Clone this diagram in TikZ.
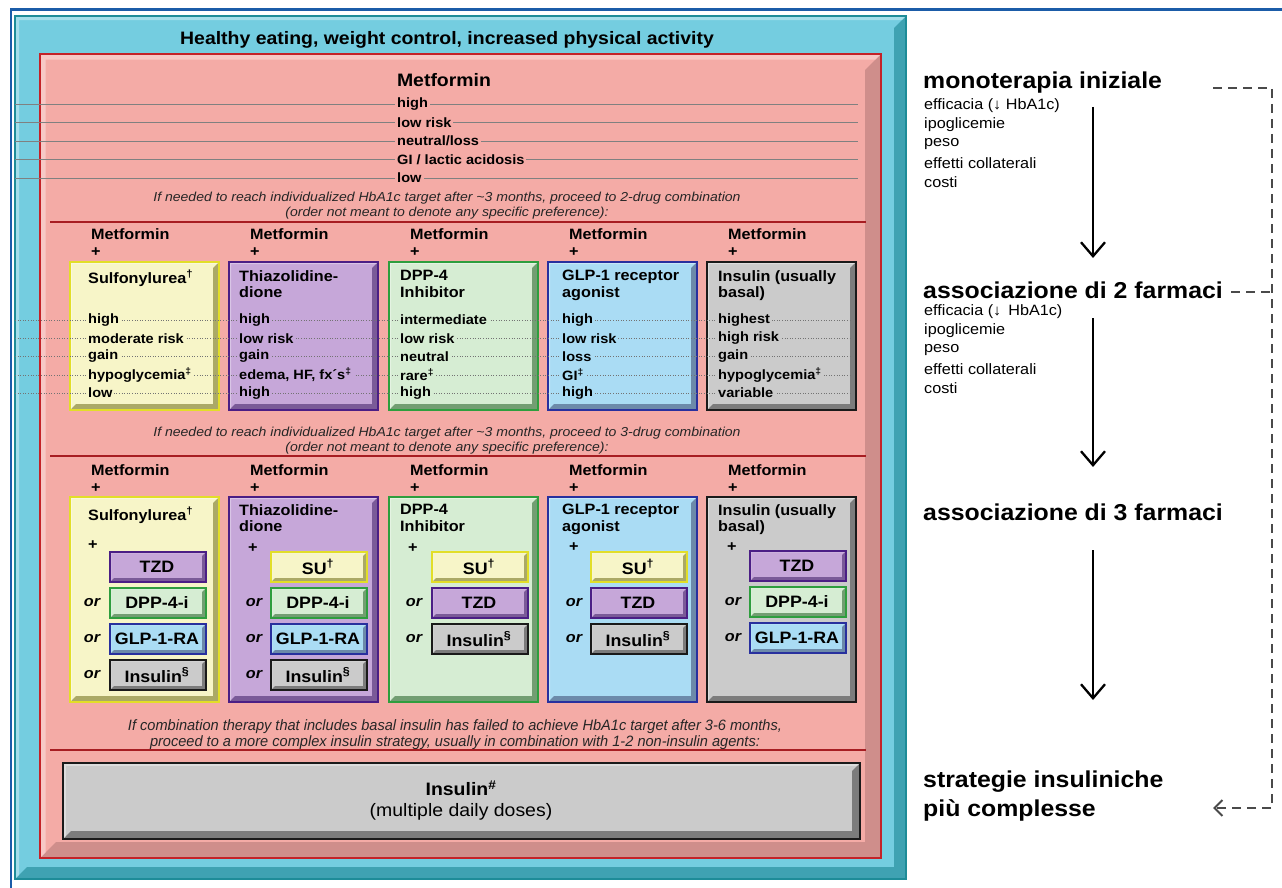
\documentclass[tikz,border=0pt]{standalone}
\usepackage{fontspec}
\setmainfont{Liberation Sans}[FakeStretch=1.08]
\usetikzlibrary{arrows.meta}

\definecolor{frameblue}{HTML}{1B5CA8}
\definecolor{cyanfill}{HTML}{74CDE0}
\definecolor{cyanshade}{HTML}{3FA2B2}
\definecolor{cyanedge}{HTML}{1E8C98}
\definecolor{redfill}{HTML}{F4ABA6}
\definecolor{redshade}{HTML}{CF8E8B}
\definecolor{rededge}{HTML}{C42228}
\definecolor{yelfill}{HTML}{F7F5C8}
\definecolor{yelshade}{HTML}{ABA966}
\definecolor{yeledge}{HTML}{E2DE28}
\definecolor{purfill}{HTML}{C6A7D9}
\definecolor{purshade}{HTML}{7A5A98}
\definecolor{puredge}{HTML}{4B1E85}
\definecolor{grnfill}{HTML}{D6EDD3}
\definecolor{grnshade}{HTML}{729E72}
\definecolor{grnedge}{HTML}{2E9E3E}
\definecolor{blufill}{HTML}{AADCF4}
\definecolor{blushade}{HTML}{6C8AAA}
\definecolor{bluedge}{HTML}{28309E}
\definecolor{gryfill}{HTML}{CBCBCB}
\definecolor{gryshade}{HTML}{7C7C7C}
\definecolor{gryedge}{HTML}{1A1A1A}
\definecolor{dashgray}{HTML}{4A4A4A}

% bevelled box: x1, y1, x2, y2, fill, shade, edge, depth
\newcommand\bevbox[8]{%
  \fill[#5] (#1,#2) rectangle (#3,#4);
  \fill[#6] (#3,#2) -- (#3,#4) -- (#1,#4) -- ({#1+#8},{#4-#8}) -- ({#3-#8},{#4-#8}) -- ({#3-#8},{#2+#8}) -- cycle;
  \fill[white,opacity=.35] (#1,#2) -- (#3,#2) -- ({#3-0.35*#8},{#2+0.35*#8}) -- ({#1+0.35*#8},{#2+0.35*#8}) -- ({#1+0.35*#8},{#4-0.35*#8}) -- (#1,#4) -- cycle;
  \draw[#7,line width=2.2] (#1,#2) rectangle (#3,#4);
}
% small labelled choice box: name, x-left, y-top, colour prefix, text
\newcommand\choice[5]{%
  \bevbox{#2}{#3}{#2+96}{#3+30}{#4fill}{#4shade}{#4edge}{4}
  \node[choicetxt] (#1) at ({#2+47},{#3+15}) {#5};
}
% five comparison values below a drug heading: x, fill colour, five texts
\newcommand\valcol[7]{%
  \node[val=#2] at (#1,320) {#3};
  \node[val=#2] at (#1,338.3) {#4};
  \node[val=#2] at (#1,356.5) {#5};
  \node[val=#2] at (#1,374.8) {#6};
  \node[val=#2] at (#1,393) {#7};
}

\begin{document}
\begin{tikzpicture}[x=1pt,y=-1pt,
  lifestyle/.style={font=\bfseries\fontsize{18}{20}\selectfont},
  mainhead/.style={font=\bfseries\fontsize{18}{20}\selectfont},
  rowlab/.style={font=\bfseries\fontsize{15}{17}\selectfont, anchor=west, inner sep=0pt},
  ttl/.style={font=\bfseries\fontsize{15}{16.5}\selectfont, anchor=north west, align=left, inner sep=0pt},
  val/.style={font=\bfseries\fontsize{13.5}{15}\selectfont, anchor=west, inner xsep=2pt, inner ysep=1pt, fill=#1},
  note/.style={font=\itshape\fontsize{13}{15}\selectfont, align=center, text=black!85},
  ortxt/.style={font=\bfseries\itshape\fontsize{15}{17}\selectfont},
  choicetxt/.style={font=\bfseries\fontsize{16.5}{18}\selectfont},
  guide/.style={draw=black!50, line width=0.5pt},
  dotguide/.style={draw=black!55, line width=0.6pt, dotted},
  sepline/.style={draw=rededge!85!black, line width=1.6pt},
  rhead/.style={font=\bfseries\fontsize{23}{28}\selectfont, anchor=west, inner sep=0pt},
  ritem/.style={font=\fontsize{15}{19}\selectfont, anchor=west, inner sep=0pt},
  flow/.style={line width=2.3pt, -{Straight Barb[length=14pt,width=24pt,line width=2.3pt]}},
  fbdash/.style={draw=dashgray, line width=2.2pt, dash pattern=on 9pt off 6pt},
]
\useasboundingbox (0,0) rectangle (1282,888);
\fill[white] (0,0) rectangle (1282,888);

% slide frame
\draw[frameblue, line width=2.6pt] (11,888) -- (11,9.5) -- (1282,9.5);

% lifestyle background and metformin panel
\bevbox{15}{16}{906}{879}{cyanfill}{cyanshade}{cyanedge}{12}
\node[lifestyle] (life) at (447,40) {Healthy eating, weight control, increased physical activity};
\bevbox{40}{54}{881}{858}{redfill}{redshade}{rededge}{16}

% ---- monotherapy ----
\node[mainhead] (met) at (444,80) {Metformin};
\foreach \y in {104,122.5,141,159.5,178} \draw[guide] (15,\y) -- (858,\y);
\node[val=redfill] (m1) at (395,104) {high};
\node[val=redfill] (m2) at (395,122.5) {low risk};
\node[val=redfill] (m3) at (395,141) {neutral/loss};
\node[val=redfill] (m4) at (395,159.5) {GI / lactic acidosis};
\node[val=redfill] (m5) at (395,178) {low};
\node[note] (n1) at (447,205.5) {If needed to reach individualized HbA1c target after \textasciitilde3 months, proceed to 2-drug combination\\(order not meant to denote any specific preference):};
\draw[sepline] (50,222) -- (866,222);

% ---- two-drug combinations ----
\foreach \L/\k in {70/a,229/b,389/c,548/d,707/e} {
  \node[rowlab] (r1met\k) at (\L+21,234) {Metformin};
  \node[rowlab] (r1plus\k) at (\L+21,252) {+};
}
\bevbox{70}{262}{219}{410}{yelfill}{yelshade}{yeledge}{6}
\bevbox{229}{262}{378}{410}{purfill}{purshade}{puredge}{6}
\bevbox{389}{262}{538}{410}{grnfill}{grnshade}{grnedge}{6}
\bevbox{548}{262}{697}{410}{blufill}{blushade}{bluedge}{6}
\bevbox{707}{262}{856}{410}{gryfill}{gryshade}{gryedge}{6}
\foreach \y in {320,338.3,356.5,374.8,393} \draw[dotguide] (15,\y) -- (852,\y);

\node[ttl] (t1a) at (88,270) {Sulfonylurea\textsuperscript{†}};
\node[ttl] (t1b) at (239,270) {Thiazolidine-\\dione};
\node[ttl] (t1c) at (400,270) {DPP-4\\Inhibitor};
\node[ttl] (t1d) at (562,270) {GLP-1 receptor\\agonist};
\node[ttl] (t1e) at (718,270) {Insulin (usually\\basal)};

\valcol{86}{yelfill}{high}{moderate risk}{gain}{hypoglycemia\textsuperscript{‡}}{low}
\valcol{237}{purfill}{high}{low risk}{gain}{edema, HF, fx´s\textsuperscript{‡}}{high}
\valcol{398}{grnfill}{intermediate}{low risk}{neutral}{rare\textsuperscript{‡}}{high}
\valcol{560}{blufill}{high}{low risk}{loss}{GI\textsuperscript{‡}}{high}
\valcol{716}{gryfill}{highest}{high risk}{gain}{hypoglycemia\textsuperscript{‡}}{variable}

\node[note] (n2) at (447,440.5) {If needed to reach individualized HbA1c target after \textasciitilde3 months, proceed to 3-drug combination\\(order not meant to denote any specific preference):};
\draw[sepline] (50,456) -- (866,456);

% ---- three-drug combinations ----
\foreach \L/\k in {70/a,229/b,389/c,548/d,707/e} {
  \node[rowlab] (r2met\k) at (\L+21,470) {Metformin};
  \node[rowlab] (r2plus\k) at (\L+21,488) {+};
}
\bevbox{70}{497}{219}{702}{yelfill}{yelshade}{yeledge}{6}
\bevbox{229}{497}{378}{702}{purfill}{purshade}{puredge}{6}
\bevbox{389}{497}{538}{702}{grnfill}{grnshade}{grnedge}{6}
\bevbox{548}{497}{697}{702}{blufill}{blushade}{bluedge}{6}
\bevbox{707}{497}{856}{702}{gryfill}{gryshade}{gryedge}{6}

\node[ttl] (t2a) at (88,507) {Sulfonylurea\textsuperscript{†}};
\node[ttl] (t2b) at (239,504) {Thiazolidine-\\dione};
\node[ttl] (t2c) at (400,504) {DPP-4\\Inhibitor};
\node[ttl] (t2d) at (562,504) {GLP-1 receptor\\agonist};
\node[ttl] (t2e) at (718,504) {Insulin (usually\\basal)};

\node[rowlab] (pa) at (88,545) {+};
\node[rowlab] (pb) at (248,548) {+};
\node[rowlab] (pc) at (408,548) {+};
\node[rowlab] (pd) at (569,547) {+};
\node[rowlab] (pe) at (727,547) {+};

\choice{ca1}{110}{552}{pur}{TZD}
\choice{ca2}{110}{588}{grn}{DPP-4-i}
\choice{ca3}{110}{624}{blu}{GLP-1-RA}
\choice{ca4}{110}{660}{gry}{Insulin\textsuperscript{§}}
\node[ortxt] at (92,603) {or};
\node[ortxt] at (92,639) {or};
\node[ortxt] at (92,675) {or};

\choice{cb1}{271}{552}{yel}{SU\textsuperscript{†}}
\choice{cb2}{271}{588}{grn}{DPP-4-i}
\choice{cb3}{271}{624}{blu}{GLP-1-RA}
\choice{cb4}{271}{660}{gry}{Insulin\textsuperscript{§}}
\node[ortxt] at (254,603) {or};
\node[ortxt] at (254,639) {or};
\node[ortxt] at (254,675) {or};

\choice{cc1}{432}{552}{yel}{SU\textsuperscript{†}}
\choice{cc2}{432}{588}{pur}{TZD}
\choice{cc3}{432}{624}{gry}{Insulin\textsuperscript{§}}
\node[ortxt] at (414,603) {or};
\node[ortxt] at (414,639) {or};

\choice{cd1}{591}{552}{yel}{SU\textsuperscript{†}}
\choice{cd2}{591}{588}{pur}{TZD}
\choice{cd3}{591}{624}{gry}{Insulin\textsuperscript{§}}
\node[ortxt] at (574,603) {or};
\node[ortxt] at (574,639) {or};

\choice{ce1}{750}{551}{pur}{TZD}
\choice{ce2}{750}{587}{grn}{DPP-4-i}
\choice{ce3}{750}{623}{blu}{GLP-1-RA}
\node[ortxt] at (733,602) {or};
\node[ortxt] at (733,638) {or};

\node[note, font=\itshape\fontsize{15}{16}\selectfont] (n3) at (455,734.5) {\scalebox{0.9}[1]{If combination therapy that includes basal insulin has failed to achieve HbA1c target after 3-6 months,}\\\scalebox{0.9}[1]{proceed to a more complex insulin strategy, usually in combination with 1-2 non-insulin agents:}};
\draw[sepline] (50,750) -- (866,750);

% ---- multiple daily insulin ----
\bevbox{63}{763}{860}{839}{gryfill}{gryshade}{gryedge}{8}
\node[font=\bfseries\fontsize{18}{20}\selectfont] (mdi) at (461,788) {Insulin\textsuperscript{\#}};
\node[font=\fontsize{18}{20}\selectfont] (mdd) at (461,812) {(multiple daily doses)};

% ---- Italian step sequence ----
\node[rhead] (mono) at (923,83) {monoterapia iniziale};
\node[ritem] (mo1) at (924,106) {efficacia (↓ HbA1c)};
\node[ritem] (mo2) at (924,125) {ipoglicemie};
\node[ritem] (mo3) at (924,144) {peso};
\node[ritem] (mo4) at (924,163) {effetti collaterali};
\node[ritem] (mo5) at (924,182) {costi};

\node[rhead] (ass2) at (923,290) {associazione di 2 farmaci};
\node[ritem] (as1) at (924,312) {efficacia (↓ \,HbA1c)};
\node[ritem] (as2) at (924,331) {ipoglicemie};
\node[ritem] (as3) at (924,350) {peso};
\node[ritem] (as4) at (924,369) {effetti collaterali};
\node[ritem] (as5) at (924,388) {costi};

\node[rhead] (ass3) at (923,512) {associazione di 3 farmaci};
\node[rhead] (strat1) at (923,782) {strategie insuliniche};
\node[rhead] (strat2) at (923,810) {più complesse};

\coordinate (f1s) at (1093,107);
\coordinate (f1e) at (1093,258);
\coordinate (f2s) at (1093,318);
\coordinate (f2e) at (1093,467);
\coordinate (f3s) at (1093,550);
\coordinate (f3e) at (1093,700);
\draw[flow] (f1s) -- (f1e);
\draw[flow] (f2s) -- (f2e);
\draw[flow] (f3s) -- (f3e);

% dashed shortcut straight to complex insulin strategies
\coordinate (d1) at (1213,88);
\coordinate (d2) at (1272,88);
\coordinate (d3) at (1272,808);
\coordinate (d4) at (1213,808);
\coordinate (d5) at (1231,292);
\coordinate (d6) at (1272,292);
\draw[fbdash, -{Straight Barb[length=8pt,width=16pt,line width=2pt]}, line join=miter] (d1) -- (d2) -- (d3) -- (d4);
\draw[fbdash] (d5) -- (d6);
\end{tikzpicture}
\end{document}
